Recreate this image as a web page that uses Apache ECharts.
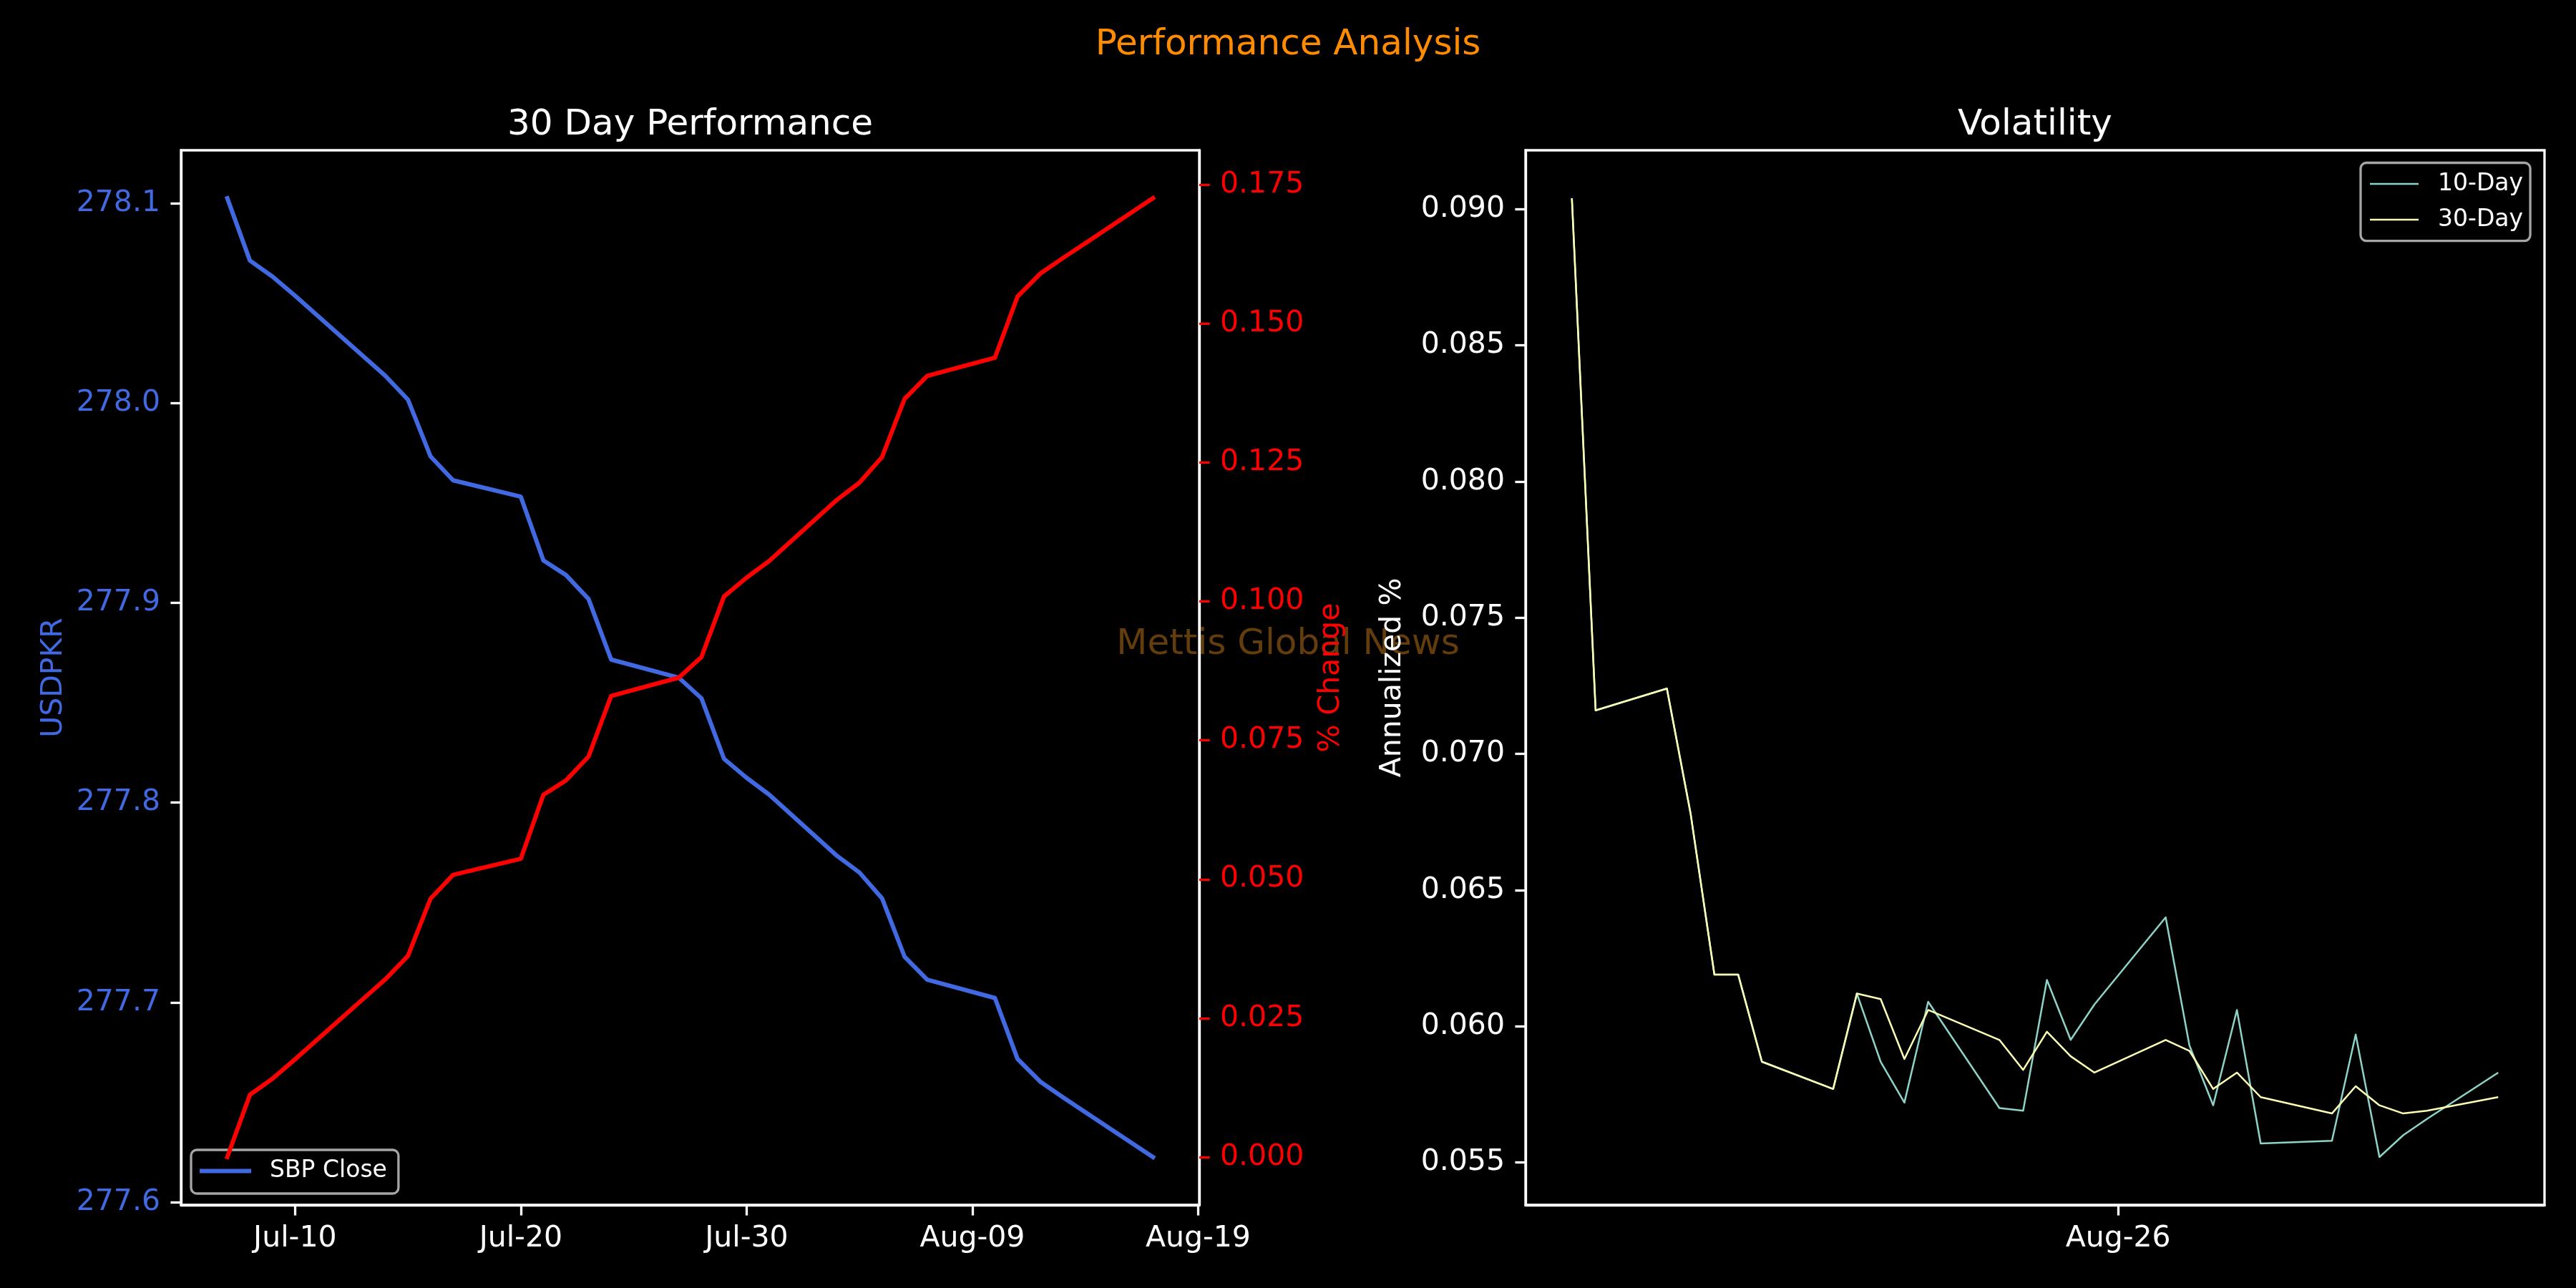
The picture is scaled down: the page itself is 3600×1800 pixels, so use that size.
<!DOCTYPE html>
<html>
<head>
<meta charset="utf-8">
<title>Performance Analysis</title>
<script src="https://cdn.jsdelivr.net/npm/echarts@6/dist/echarts.min.js"></script>
<style>
    html, body { margin: 0; padding: 0; background: #000; }
    #chart { width: 3600px; height: 1800px; }
</style>
</head>
<body>
<div id="chart"></div>
<script>
// left panel: 30 day SBP close and % change
var closeDates = ['2026-07-07', '2026-07-08', '2026-07-09', '2026-07-10', '2026-07-13', '2026-07-14',
    '2026-07-15', '2026-07-16', '2026-07-17', '2026-07-20', '2026-07-21', '2026-07-22', '2026-07-23',
    '2026-07-24', '2026-07-27', '2026-07-28', '2026-07-29', '2026-07-30', '2026-07-31', '2026-08-03',
    '2026-08-04', '2026-08-05', '2026-08-06', '2026-08-07', '2026-08-10', '2026-08-11', '2026-08-12',
    '2026-08-13', '2026-08-14', '2026-08-17'];
var sbpClose = [278.1025, 278.0713, 278.0633, 278.0537, 278.0236, 278.0136, 278.0017, 277.9733,
    277.9613, 277.9531, 277.9212, 277.9139, 277.9019, 277.8716, 277.8625, 277.8522, 277.8219,
    277.8124, 277.8040, 277.7734, 277.7650, 277.7521, 277.7228, 277.7114, 277.7022, 277.6717,
    277.6604, 277.6526, 277.6451, 277.6226];
var pctChange = [0.0000, 0.0112, 0.0141, 0.0176, 0.0284, 0.0320, 0.0362, 0.0465, 0.0508, 0.0537,
    0.0652, 0.0678, 0.0721, 0.0830, 0.0863, 0.0900, 0.1009, 0.1043, 0.1073, 0.1183, 0.1214, 0.1260,
    0.1365, 0.1406, 0.1439, 0.1549, 0.1590, 0.1618, 0.1645, 0.1726];
var closeTicks = ['2026-07-10', '2026-07-20', '2026-07-30', '2026-08-09', '2026-08-19'];
var priceTicks = [277.6, 277.7, 277.8, 277.9, 278.0, 278.1];
var pctTicks = [0, 0.025, 0.05, 0.075, 0.1, 0.125, 0.15, 0.175];

// right panel: rolling volatility
var volDates = ['2023-08-03', '2023-08-04', '2023-08-07', '2023-08-08', '2023-08-09', '2023-08-10',
    '2023-08-11', '2023-08-14', '2023-08-15', '2023-08-16', '2023-08-17', '2023-08-18', '2023-08-21',
    '2023-08-22', '2023-08-23', '2023-08-24', '2023-08-25', '2023-08-28', '2023-08-29', '2023-08-30',
    '2023-08-31', '2023-09-01', '2023-09-04', '2023-09-05', '2023-09-06', '2023-09-07', '2023-09-08',
    '2023-09-11'];
var vol10 = [0.0904, 0.0716, 0.0724, 0.0678, 0.0619, 0.0619, 0.0587, 0.0577, 0.0612, 0.0587,
    0.0572, 0.0609, 0.0570, 0.0569, 0.0617, 0.0595, 0.0608, 0.0640, 0.0593, 0.0571, 0.0606,
    0.0557, 0.0558, 0.0597, 0.0552, 0.0560, 0.0566, 0.0583];
var vol30 = [0.0904, 0.0716, 0.0724, 0.0678, 0.0619, 0.0619, 0.0587, 0.0577, 0.0612, 0.0610,
    0.0588, 0.0606, 0.0595, 0.0584, 0.0598, 0.0589, 0.0583, 0.0595, 0.0591, 0.0577, 0.0583,
    0.0574, 0.0568, 0.0578, 0.0571, 0.0568, 0.0569, 0.0574];
var volTicks = ['2023-08-26'];
var volValueTicks = [0.055, 0.060, 0.065, 0.070, 0.075, 0.080, 0.085, 0.090];

var FONT = 'DejaVu Sans';
var MONTHS = ['Jan', 'Feb', 'Mar', 'Apr', 'May', 'Jun', 'Jul', 'Aug', 'Sep', 'Oct', 'Nov', 'Dec'];

function toTime(s) {
    return Date.parse(s);
}

function dateLabel(v) {
    var d = new Date(v);
    return MONTHS[d.getUTCMonth()] + '-' + ('0' + d.getUTCDate()).slice(-2);
}

function pairs(dates, vals) {
    return dates.map(function (d, i) {
        return [toTime(d), vals[i]];
    });
}

// matplotlib style 5% autoscale margins
function padMin(v) {
    return v.min - (v.max - v.min) * 0.05;
}

function padMax(v) {
    return v.max + (v.max - v.min) * 0.05;
}

function axisBase(ticks, fmt, labelColor, tickColor, margin) {
    return {
        type: 'value',
        min: padMin,
        max: padMax,
        splitLine: { show: false },
        axisLine: { show: true, onZero: false, lineStyle: { color: '#ffffff', width: 3.3 } },
        axisTick: {
            show: true,
            length: 14.6,
            customValues: ticks,
            lineStyle: { color: tickColor, width: 3.3 }
        },
        axisLabel: {
            customValues: ticks,
            formatter: fmt,
            color: labelColor,
            fontSize: 41,
            fontFamily: FONT,
            margin: margin
        }
    };
}

var xLeft = axisBase(closeTicks.map(toTime), dateLabel, '#ffffff', '#ffffff', 27);
xLeft.gridIndex = 0;

var xRight = axisBase(volTicks.map(toTime), dateLabel, '#ffffff', '#ffffff', 27);
xRight.gridIndex = 1;

var yPrice = axisBase(priceTicks, function (v) { return v.toFixed(1); }, '#4169e1', '#ffffff', 29);
yPrice.gridIndex = 0;
yPrice.position = 'left';
yPrice.name = 'USDPKR';
yPrice.nameLocation = 'middle';
yPrice.nameGap = 157;
yPrice.nameTextStyle = { color: '#4169e1', fontSize: 41, fontFamily: FONT };

var yPct = axisBase(pctTicks, function (v) { return v.toFixed(3); }, '#ff0000', '#ff0000', 29);
yPct.gridIndex = 0;
yPct.position = 'right';
yPct.name = '% Change';
yPct.nameLocation = 'middle';
yPct.nameGap = 164;
yPct.nameTextStyle = { color: '#ff0000', fontSize: 41, fontFamily: FONT };

var yVol = axisBase(volValueTicks, function (v) { return v.toFixed(3); }, '#ffffff', '#ffffff', 29);
yVol.gridIndex = 1;
yVol.position = 'left';
yVol.name = 'Annualized %';
yVol.nameLocation = 'middle';
yVol.nameGap = 165;
yVol.nameTextStyle = { color: '#ffffff', fontSize: 41, fontFamily: FONT };

// legend rows are 36px tall (text line height), icon is a thin rect like a line sample
function legendBox(names, left, top, padding, lineW, lineH, textPad) {
    return {
        data: names.map(function (n) { return { name: n, icon: 'rect' }; }),
        orient: 'vertical',
        left: left,
        top: top,
        padding: padding,
        itemGap: 14,
        itemWidth: lineW,
        itemHeight: lineH,
        backgroundColor: 'rgba(0,0,0,0.8)',
        borderColor: '#a6a6a6',
        borderWidth: 3.3,
        borderRadius: 8,
        selectedMode: false,
        textStyle: {
            color: '#ffffff',
            fontSize: 33,
            fontFamily: FONT,
            lineHeight: 36,
            padding: [0, 0, 0, textPad]
        }
    };
}

var leftLegend = legendBox(['SBP Close'], 267, 1607, [11.5, 16, 13.5, 12], 72, 6, 21);
leftLegend.z = 1;
var rightLegend = legendBox(['10-Day', '30-Day'], 3299, 227.5, [11.5, 10, 11.6, 13], 68, 2.5, 22);

var myChart = echarts.init(document.getElementById('chart'), null, { renderer: 'canvas' });

var option = {
    backgroundColor: '#000000',
    animation: false,
    textStyle: { fontFamily: FONT },
    grid: [
        { left: 253, top: 210, width: 1423, height: 1474, show: true, borderColor: '#ffffff', borderWidth: 3.3, backgroundColor: 'transparent' },
        { left: 2132, top: 210, width: 1424, height: 1474, show: true, borderColor: '#ffffff', borderWidth: 3.3, backgroundColor: 'transparent' }
    ],
    xAxis: [xLeft, xRight],
    yAxis: [yPrice, yPct, yVol],
    legend: [leftLegend, rightLegend],
    graphic: [
        {
            type: 'text', x: 1800, y: 901.5, z: -10, silent: true,
            style: { text: 'Mettis Global News', fill: '#633d0c', font: '50px "DejaVu Sans"', align: 'center', verticalAlign: 'middle' }
        },
        {
            type: 'text', x: 1800, y: 63,
            style: { text: 'Performance Analysis', fill: '#ff8c00', font: '50px "DejaVu Sans"', align: 'center', verticalAlign: 'middle' }
        },
        {
            type: 'text', x: 964.5, y: 175.5,
            style: { text: '30 Day Performance', fill: '#ffffff', font: '50px "DejaVu Sans"', align: 'center', verticalAlign: 'middle' }
        },
        {
            type: 'text', x: 2844, y: 175.5,
            style: { text: 'Volatility', fill: '#ffffff', font: '50px "DejaVu Sans"', align: 'center', verticalAlign: 'middle' }
        }
    ],
    series: [
        {
            name: 'SBP Close', type: 'line', xAxisIndex: 0, yAxisIndex: 0,
            data: pairs(closeDates, sbpClose), symbol: 'none', color: '#4169e1',
            lineStyle: { width: 6, color: '#4169e1', cap: 'square', join: 'round' }
        },
        {
            name: '% Change', type: 'line', xAxisIndex: 0, yAxisIndex: 1,
            data: pairs(closeDates, pctChange), symbol: 'none', color: '#ff0000',
            lineStyle: { width: 6, color: '#ff0000', cap: 'square', join: 'round' }
        },
        {
            name: '10-Day', type: 'line', xAxisIndex: 1, yAxisIndex: 2,
            data: pairs(volDates, vol10), symbol: 'none', color: '#8dd3c7',
            lineStyle: { width: 2.5, color: '#8dd3c7', join: 'round' }
        },
        {
            name: '30-Day', type: 'line', xAxisIndex: 1, yAxisIndex: 2,
            data: pairs(volDates, vol30), symbol: 'none', color: '#feffb3',
            lineStyle: { width: 2.5, color: '#feffb3', join: 'round' }
        }
    ]
};

myChart.setOption(option);
</script>
</body>
</html>
